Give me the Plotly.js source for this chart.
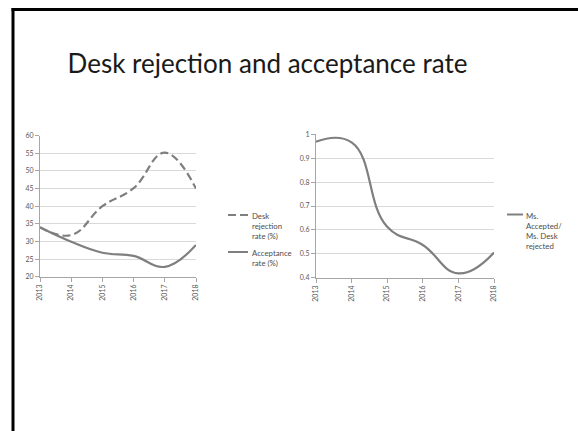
<!DOCTYPE html>
<html>
<head>
<meta charset="utf-8">
<script src="https://cdn.plot.ly/plotly-3.0.1.min.js"></script>
<style>html,body{margin:0;padding:0;background:#fff;}#chart{width:578px;height:431px;}</style>
</head>
<body>
<div id="chart"></div>
<script>
const years = [2013, 2014, 2015, 2016, 2017, 2018];
const deskRejectionRate = [34, 31.8, 40, 45.1, 55.2, 45];
const acceptanceRate = [34, 29.9, 26.8, 25.9, 22.8, 29];
const acceptedPerDeskRejected = [0.969, 0.966, 0.613, 0.537, 0.418, 0.505];
const leftYTicks = [20, 25, 30, 35, 40, 45, 50, 55, 60];
const rightYTicks = [0.4, 0.5, 0.6, 0.7, 0.8, 0.9, 1];
const titleText = 'Desk rejection and acceptance rate';
const legendLeft1 = 'Desk<br>rejection<br>rate (%)';
const legendLeft2 = 'Acceptance<br>rate (%)';
const legendRight = 'Ms.<br>Accepted/<br>Ms. Desk<br>rejected';

const W = 578, H = 431;
const px = v => v / W;
const py = v => 1 - v / H;
const lineColor = '#7f7f7f';
const tickFont = {family: 'Lato, "Liberation Sans", sans-serif', size: 7, color: '#595959'};
const legFont = {family: 'Lato, "Liberation Sans", sans-serif', size: 7.8, color: '#4d4d4d'};

const traces = [
  {x: years, y: deskRejectionRate, xaxis: 'x', yaxis: 'y', mode: 'lines', name: 'Desk rejection rate (%)',
   line: {color: lineColor, width: 2.2, shape: 'spline', smoothing: 1.2, dash: '8px,4px'}, showlegend: false},
  {x: years, y: acceptanceRate, xaxis: 'x', yaxis: 'y', mode: 'lines', name: 'Acceptance rate (%)',
   line: {color: lineColor, width: 2.2, shape: 'spline', smoothing: 1.2}, showlegend: false},
  {x: years, y: acceptedPerDeskRejected, xaxis: 'x2', yaxis: 'y2', mode: 'lines', name: 'Ms. Accepted/ Ms. Desk rejected',
   line: {color: lineColor, width: 2.2, shape: 'spline', smoothing: 1.3}, showlegend: false}
];

const xCommon = {
  tickmode: 'array', tickvals: years, ticktext: years.map(String), tickangle: -90,
  showgrid: false, zeroline: false, showline: true, linecolor: '#a6a6a6', linewidth: 1,
  ticks: 'outside', ticklen: 4, tickcolor: '#a6a6a6', tickfont: tickFont, fixedrange: true
};
const yCommon = {
  showgrid: true, gridcolor: '#d9d9d9', gridwidth: 1, zeroline: false,
  showline: true, linecolor: '#a6a6a6', linewidth: 1,
  ticks: 'outside', ticklen: 4, tickcolor: '#a6a6a6', tickfont: tickFont, fixedrange: true
};

const layout = {
  width: W, height: H,
  margin: {l: 0, r: 0, t: 0, b: 0},
  paper_bgcolor: '#ffffff', plot_bgcolor: 'rgba(0,0,0,0)',
  showlegend: false,
  title: {text: titleText, x: px(267.5), xanchor: 'center', y: py(64), yanchor: 'middle',
          font: {family: 'Lato, "Open Sans", sans-serif', size: 26, color: '#1a1a1a'}},
  xaxis: Object.assign({}, xCommon, {domain: [px(40), px(196)], range: [2013, 2018], anchor: 'y'}),
  yaxis: Object.assign({}, yCommon, {domain: [py(276.7), py(135.7)], range: [20, 60], tickvals: leftYTicks, anchor: 'x'}),
  xaxis2: Object.assign({}, xCommon, {domain: [px(316), px(494)], range: [2013, 2018], anchor: 'y2'}),
  yaxis2: Object.assign({}, yCommon, {domain: [py(277.7), py(134.3)], range: [0.4, 1], tickvals: rightYTicks, ticktext: rightYTicks.map(String), anchor: 'x2'}),
  shapes: [
    {type: 'line', xref: 'paper', yref: 'paper', x0: px(13), x1: px(13), y0: py(8), y1: py(440), line: {color: '#000', width: 3}},
    {type: 'line', xref: 'paper', yref: 'paper', x0: px(11.5), x1: px(590), y0: py(9.5), y1: py(9.5), line: {color: '#000', width: 3}},
    {type: 'line', xref: 'paper', yref: 'paper', x0: px(228), x1: px(248), y0: py(215), y1: py(215), line: {color: lineColor, width: 2, dash: '8px,4px'}},
    {type: 'line', xref: 'paper', yref: 'paper', x0: px(228), x1: px(248), y0: py(252), y1: py(252), line: {color: lineColor, width: 2}},
    {type: 'line', xref: 'paper', yref: 'paper', x0: px(507), x1: px(523), y0: py(214.5), y1: py(214.5), line: {color: lineColor, width: 2}}
  ],
  annotations: [
    {text: legendLeft1, xref: 'paper', yref: 'paper', x: px(249.5), y: py(209), xanchor: 'left', yanchor: 'top', align: 'left', showarrow: false, font: legFont},
    {text: legendLeft2, xref: 'paper', yref: 'paper', x: px(249.5), y: py(246), xanchor: 'left', yanchor: 'top', align: 'left', showarrow: false, font: legFont},
    {text: legendRight, xref: 'paper', yref: 'paper', x: px(523.5), y: py(209), xanchor: 'left', yanchor: 'top', align: 'left', showarrow: false, font: legFont}
  ]
};

Plotly.newPlot('chart', traces, layout, {displayModeBar: false, staticPlot: true});
</script>
</body>
</html>
